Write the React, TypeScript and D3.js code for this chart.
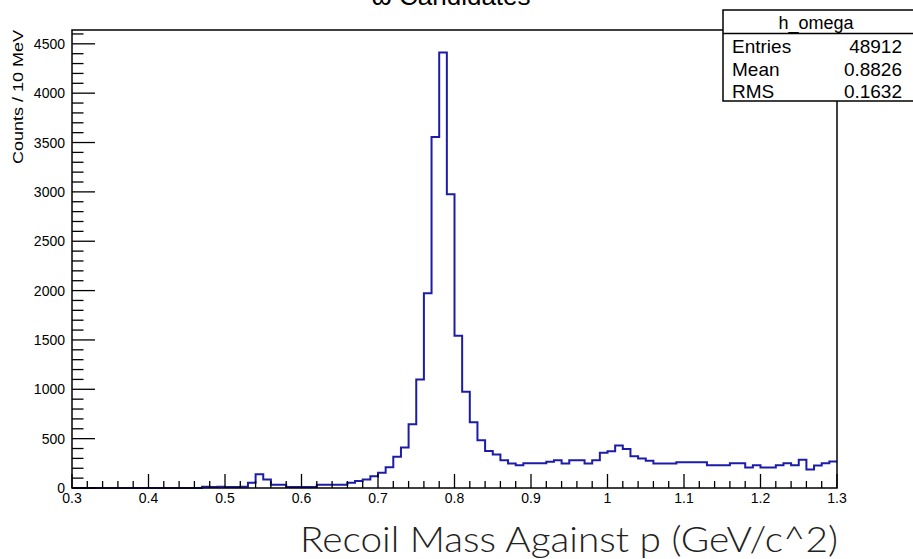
import React from "react";
import * as d3 from "d3";

// ---- data ----
const xMin = 0.3;
const xMax = 1.3;
const binWidth = 0.01;
const counts: number[] = [
  0, 0, 0, 0, 0, 0, 0, 0, 0, 0,
  0, 0, 0, 0, 0, 0, 0, 12, 10, 12,
  11, 10, 12, 52, 140, 86, 32, 32, 11, 11,
  11, 11, 32, 32, 32, 32, 52, 72, 86, 120,
  155, 210, 316, 410, 647, 1100, 1973, 3555, 4413, 2977,
  1543, 975, 665, 485, 375, 340, 282, 248, 231, 251,
  251, 251, 265, 282, 248, 282, 282, 248, 282, 356,
  373, 431, 394, 322, 299, 275, 248, 248, 248, 262,
  262, 262, 262, 231, 231, 231, 251, 251, 208, 231,
  208, 208, 231, 251, 231, 285, 188, 228, 251, 268,
];
const yMajorTicks = [0, 500, 1000, 1500, 2000, 2500, 3000, 3500, 4000, 4500];
const yTickLabels = ["0", "500", "1000", "1500", "2000", "2500", "3000", "3500", "4000", "4500"];
const xMajorTicks = [0.3, 0.4, 0.5, 0.6, 0.7, 0.8, 0.9, 1.0, 1.1, 1.2, 1.3];
const xTickLabels = ["0.3", "0.4", "0.5", "0.6", "0.7", "0.8", "0.9", "1", "1.1", "1.2", "1.3"];
const statsLabels = ["Entries", "Mean", "RMS"];
const statsValues = ["48912", "0.8826", "0.1632"];
const histName = "h_omega";
const title = "ω Candidates";
const xTitle = "Recoil Mass Against p (GeV/c^2)";
const yTitle = "Counts / 10 MeV";
const yMax = 4640;

export default function App() {
  const W = 913, H = 559;
  const left = 72, right = 837, top = 30, bottom = 488;
  const x = d3.scaleLinear().domain([xMin, xMax]).range([left, right]);
  const y = d3.scaleLinear().domain([0, yMax]).range([bottom, top]);

  const pts: [number, number][] = [[x(xMin), y(0)]];
  counts.forEach((c, i) => {
    const lo = xMin + i * binWidth;
    const hi = lo + binWidth;
    pts.push([x(lo), y(c)]);
    pts.push([x(hi), y(c)]);
  });
  const line = d3.line<[number, number]>()(pts) || "";

  const yMinor = d3.range(0, 4601, 100);
  const xMinor = d3.range(0, 51).map((i) => xMin + i * 0.02);
  const xTickLen = 14, yTickLen = 23;

  const font = "'Liberation Sans', Arial, Helvetica, sans-serif";

  return (
    <div style={{ position: "absolute", left: 0, top: 0 }}>
      <svg width={W} height={H} style={{ display: "block", background: "#fff" }}>
        <rect x={0} y={0} width={W} height={H} fill="#fff" />
        {/* title (cut at top) */}
        <text x={451} y={5} textAnchor="middle" fontFamily={font} fontSize={26} fill="#000">
          {title}
        </text>
        {/* histogram */}
        <path d={line} fill="none" stroke="#1c1ca8" strokeWidth={2} strokeLinejoin="miter" />
        {/* frame */}
        <rect x={left} y={top} width={right - left} height={bottom - top} fill="none" stroke="#000" strokeWidth={1.5} />
        {/* y ticks */}
        {yMinor.map((v) => {
          const major = v % 500 === 0;
          return (
            <line key={"ym" + v} x1={left} x2={left + (major ? yTickLen : yTickLen / 2)} y1={y(v)} y2={y(v)} stroke="#000" strokeWidth={1.3} />
          );
        })}
        {yMajorTicks.map((v, i) => (
          <text key={"yl" + v} x={65} y={y(v) + 5} textAnchor="end" fontFamily={font} fontSize={14} fill="#000">
            {yTickLabels[i]}
          </text>
        ))}
        {/* x ticks */}
        {xMinor.map((v, i) => {
          const major = i % 5 === 0;
          return (
            <line key={"xm" + i} x1={x(v)} x2={x(v)} y1={bottom} y2={bottom - (major ? xTickLen : xTickLen / 2)} stroke="#000" strokeWidth={1.3} />
          );
        })}
        {xMajorTicks.map((v, i) => (
          <text key={"xl" + i} x={x(v)} y={503} textAnchor="middle" fontFamily={font} fontSize={14} fill="#000">
            {xTickLabels[i]}
          </text>
        ))}
        {/* y title */}
        <text
          transform={`translate(23,30) rotate(-90)`}
          textAnchor="end"
          fontFamily={font}
          fontSize={14}
          textLength={134}
          lengthAdjust="spacingAndGlyphs"
          fill="#000"
        >
          {yTitle}
        </text>
        {/* x title */}
        <text
          x={838}
          y={552}
          textAnchor="end"
          fontFamily="Lato, 'Open Sans', sans-serif"
          fontWeight={300}
          fontSize={36}
          textLength={538}
          lengthAdjust="spacingAndGlyphs"
          fill="#222"
        >
          {xTitle}
        </text>
        {/* stats box */}
        <rect x={723} y={10} width={200} height={91} fill="#fff" stroke="#000" strokeWidth={1.5} />
        <line x1={723} x2={913} y1={33.5} y2={33.5} stroke="#000" strokeWidth={1.5} />
        <text x={816} y={29} textAnchor="middle" fontFamily={font} fontSize={18} fill="#000">
          {histName}
        </text>
        {statsLabels.map((s, i) => (
          <g key={s}>
            <text x={732} y={53 + i * 22.5} fontFamily={font} fontSize={19} fill="#000">
              {s}
            </text>
            <text x={902} y={53 + i * 22.5} textAnchor="end" fontFamily={font} fontSize={19} fill="#000">
              {statsValues[i]}
            </text>
          </g>
        ))}
      </svg>
    </div>
  );
}
